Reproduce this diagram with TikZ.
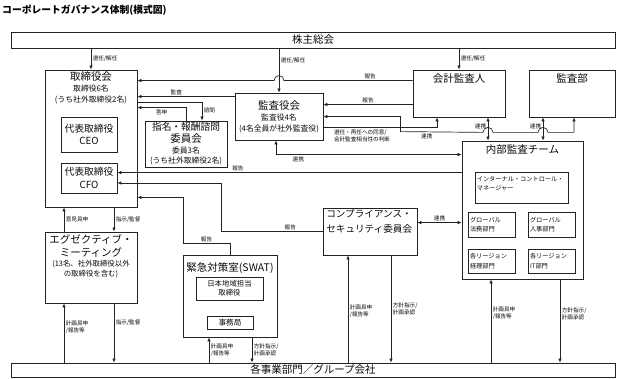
\documentclass[tikz,border=0pt]{standalone}
\usepackage{fontspec}
\setmainfont{Noto Sans CJK JP}
\usetikzlibrary{arrows.meta, positioning, calc}
\definecolor{colLine}{RGB}{35,35,35}
\definecolor{colText}{RGB}{10,10,10}
\newcommand{\fsTitle}{\fontsize{9.8}{11}\selectfont}
\newcommand{\fsL}{\fontsize{10.5}{12}\selectfont}
\newcommand{\fsM}{\fontsize{7.8}{11}\selectfont}
\newcommand{\fsX}{\fontsize{6.2}{9.5}\selectfont}
\newcommand{\fsS}{\fontsize{5.6}{7}\selectfont}
\tikzset{
  orgBox/.style={
    rectangle, draw=colLine, line width=0.8pt,
    inner sep=2pt, text=colText, align=center
  },
  boxText/.style={
    inner sep=0pt, text=colText, align=center, font=\fsM
  },
  arr/.style={
    -{Latex[length=4pt,width=3.6pt]}, line width=0.7pt, color=colLine
  },
  dblarr/.style={
    {Latex[length=4pt,width=3.6pt]}-{Latex[length=4pt,width=3.6pt]}, line width=0.7pt, color=colLine
  },
  lbl/.style={
    font=\fsS, inner sep=1.5pt, text=colText, align=left
  }
}

\begin{document}
\begin{tikzpicture}[x=1pt, y=-1pt]
  \useasboundingbox (0,0) rectangle (622,379);

  \node[anchor=west, inner sep=0pt, font=\fsTitle\bfseries] (title) at (2,10) {コーポレートガバナンス体制(模式図)};

  % bars
  \node[orgBox, minimum width=604, minimum height=16, font=\fsL] (share) at (313,40) {株主総会};
  \node[orgBox, minimum width=604, minimum height=14, font=\fsL] (jigyo) at (313,370) {各事業部門／グループ会社};

  % board
  \node[orgBox, minimum width=92, minimum height=137] (bod) at (91,138.5) {};
  \node[boxText, below=1.5pt of bod.north] (bodTxt) {{\fsL 取締役会}\\取締役6名\\(うち社外取締役2名)};
  \node[orgBox, minimum width=56, minimum height=35, font=\fontsize{9.8}{12.5}\selectfont] (ceo) at (89,134.5) {代表取締役\\CEO};
  \node[orgBox, minimum width=56, minimum height=30, font=\fontsize{9.8}{12.5}\selectfont] (cfo) at (89,178) {代表取締役\\CFO};

  \node[orgBox, minimum width=82, minimum height=46] (nomi) at (186,144) {};
  \node[boxText, below=2pt of nomi.north, font=\fontsize{7.8}{10.5}\selectfont] (nomiTxt) {{\fontsize{9.7}{12}\selectfont 指名・報酬諮問}\\[1.5pt]{\fsL 委員会}\\委員3名\\(うち社外取締役2名)};

  \node[orgBox, minimum width=88, minimum height=47] (kansayaku) at (279,116.5) {};
  \node[boxText, below=8pt of kansayaku.north] (kansayakuTxt) {{\fsL 監査役会}\\監査役4名\\(4名全員が社外監査役)};

  \node[orgBox, minimum width=92, minimum height=47] (kaikei) at (459,93.5) {};
  \node[boxText, below=4pt of kaikei.north, font=\fsL] {会計監査人};
  \node[orgBox, minimum width=86, minimum height=47] (kansabu) at (572,93.5) {};
  \node[boxText, below=4pt of kansabu.north, font=\fsL] {監査部};

  % internal audit team
  \node[orgBox, minimum width=121, minimum height=138] (naibu) at (522.5,210) {};
  \node[boxText, below=4pt of naibu.north, font=\fsL] {内部監査チーム};
  \node[orgBox, minimum width=93, minimum height=31] (icm) at (521.5,187.5) {};
  \node[boxText, anchor=north west, font=\fsX, align=left] at ([xshift=2pt,yshift=-4.5pt]icm.north west) {インターナル・コントロール・\\マネージャー};
  \node[orgBox, minimum width=47, minimum height=25, text width=43, align=left, font=\fsX] (houmu) at (491.5,224.5) {グローバル\\法務部門};
  \node[orgBox, minimum width=47, minimum height=25, text width=43, align=left, font=\fsX] (jinji) at (551.5,224.5) {グローバル\\人事部門};
  \node[orgBox, minimum width=47, minimum height=24, text width=43, align=left, font=\fsX] (keiri) at (491.5,261) {各リージョン\\経理部門};
  \node[orgBox, minimum width=47, minimum height=24, text width=43, align=left, font=\fsX] (itbu) at (551.5,261) {各リージョン\\IT部門};

  \node[orgBox, minimum width=94, minimum height=47] (comp) at (370,231.5) {};
  \node[boxText, anchor=north west, align=left, font=\fontsize{9.6}{14.5}\selectfont] at ([xshift=3.5pt,yshift=-2pt]comp.north west) {コンプライアンス・\\セキュリティ委員会};

  % emergency office
  \node[orgBox, minimum width=94, minimum height=82] (swat) at (230,296) {};
  \node[boxText, below=8pt of swat.north, font=\fsL] {緊急対策室(SWAT)};
  \node[orgBox, minimum width=67, minimum height=23, font=\fontsize{7.4}{9}\selectfont] (nihon) at (229.5,288.5) {日本地域担当\\取締役};
  \node[orgBox, minimum width=46, minimum height=12.5, inner sep=0pt, font=\fontsize{7.6}{9}\selectfont] (jimu) at (230,323) {事務局};

  % executive meeting
  \node[orgBox, minimum width=92, minimum height=71] (exec) at (91,267.5) {};
  \node[boxText, below=3pt of exec.north, font=\fontsize{7.4}{10}\selectfont] (execTxt) {{\fsL エグゼクティブ・}\\[3pt]{\fsL ミーティング}\\(13名、社外取締役以外\\の取締役を含む)};

  % from shareholders
  \draw[arr] (share.south -| bod.north) -- node[lbl, right] {選任/解任} (bod.north);
  \draw[arr] (share.south -| kansayaku.north) -- node[lbl, pos=0.27, right] {選任/解任} (kansayaku.north);
  \draw[arr] (share.south -| kaikei.north) -- node[lbl, right] {選任/解任} (kaikei.north);

  % into the board
  \draw[arr] ([yshift=-11pt]kaikei.north west) -- node[lbl, pos=0.33, above] {報告} ($(kansayaku.north |- kaikei.north)+(5,11)$) arc[start angle=0, end angle=-180, radius=5] -- ([yshift=-11pt]bod.north east);
  \draw[arr] ([yshift=-4pt]kansayaku.north west) -- node[lbl, pos=0.6, above] {監査} ([yshift=-4pt]kansayaku.north west -| bod.east);
  \draw[arr] ([yshift=-33pt]bod.north east) -| node[lbl, pos=0.72, right] {諮問} ([xshift=16pt]nomi.north);
  \draw[arr] (nomi.north) |- node[lbl, pos=0.75, below] {答申} ([yshift=-38pt]bod.north east);

  % auditors
  \draw[arr] ([yshift=-35pt]kaikei.north west) -- node[lbl, above] {報告} ([yshift=-35pt]kaikei.north west -| kansayaku.east);
  \draw[arr] ([yshift=-35pt]kansayaku.north east) -| node[lbl, pos=0.17, below, align=left] {選任・再任への同意/\\会計監査相当性の判断} ([xshift=-22pt]kaikei.south);
  \draw[dblarr] ([yshift=-24pt]kansayaku.north east) -- ++(77,0) -- ++(0,15)
    -- node[lbl, pos=0.32, below] {連携} ($(kaikei.south)+(24,15)$) arc[start angle=180, end angle=360, radius=5]
    -- ($(kansabu.south)+(-34,15)$) arc[start angle=180, end angle=360, radius=5]
    -- ($(kansabu.south)+(2,15)$) -- ([xshift=2pt]kansabu.south);
  \draw[dblarr] ([xshift=29pt]kaikei.south) -- node[lbl, pos=0.4, left] {連携} ([xshift=29pt]kaikei.south |- naibu.north);
  \draw[dblarr] ([xshift=-29pt]kansabu.south) -- node[lbl, pos=0.4, left] {連携} ([xshift=-29pt]kansabu.south |- naibu.north);
  \draw[dblarr] ([xshift=-3pt]kansayaku.south) |- node[lbl, pos=0.56, below] {連携} ([yshift=-14pt]naibu.north west);

  % reports to CFO and board
  \draw[arr] ([yshift=-32pt]naibu.north west) -- node[lbl, pos=0.65, above] {報告} ([yshift=-32pt]naibu.north west -| cfo.east);
  \draw[arr] (comp.west) -- node[lbl, pos=0.32, above] {報告} ++(-101,0) |- ([yshift=-5pt]cfo.east);
  \draw[arr] (swat.north) -- ++(0,-11) -- node[lbl, above] {報告} ++(-47,0) |- ([yshift=10pt]bod.south east);
  \draw[dblarr] ([yshift=-15pt]comp.north east) -- node[lbl, above] {連携} ([yshift=-15pt]comp.north east -| naibu.west);

  % board and executive meeting
  \draw[arr] ([xshift=-27pt]exec.north) -- node[lbl, right] {意見具申} ([xshift=-27pt]bod.south);
  \draw[arr] ([xshift=23pt]bod.south) -- node[lbl, right] {指示/監督} ([xshift=23pt]exec.north);

  % to and from business units
  \draw[arr] ([xshift=-27pt]exec.south |- jigyo.north) -- node[lbl, pos=0.6, right] {計画具申\\/報告等} ([xshift=-27pt]exec.south);
  \draw[arr] ([xshift=23pt]exec.south) -- node[lbl, pos=0.33, right] {指示/監督} ([xshift=23pt]exec.south |- jigyo.north);
  \draw[arr] ([xshift=-21pt]swat.south |- jigyo.north) -- node[lbl, right] {計画具申\\/報告等} ([xshift=-21pt]swat.south);
  \draw[arr] ([xshift=22pt]swat.south) -- node[lbl, right] {方針指示/\\計画承認} ([xshift=22pt]swat.south |- jigyo.north);
  \draw[arr] ([xshift=-22pt]comp.south |- jigyo.north) -- node[lbl, pos=0.48, right] {計画具申\\/報告等} ([xshift=-22pt]comp.south);
  \draw[arr] ([xshift=21pt]comp.south) -- node[lbl, pos=0.5, right] {方針指示/\\計画承認} ([xshift=21pt]comp.south |- jigyo.north);
  \draw[arr] ([xshift=-31.5pt]naibu.south |- jigyo.north) -- node[lbl, pos=0.59, right] {計画具申\\/報告等} ([xshift=-31.5pt]naibu.south);
  \draw[arr] ([xshift=37.5pt]naibu.south) -- node[lbl, pos=0.41, right] {方針指示/\\計画承認} ([xshift=37.5pt]naibu.south |- jigyo.north);

\end{tikzpicture}
\end{document}
